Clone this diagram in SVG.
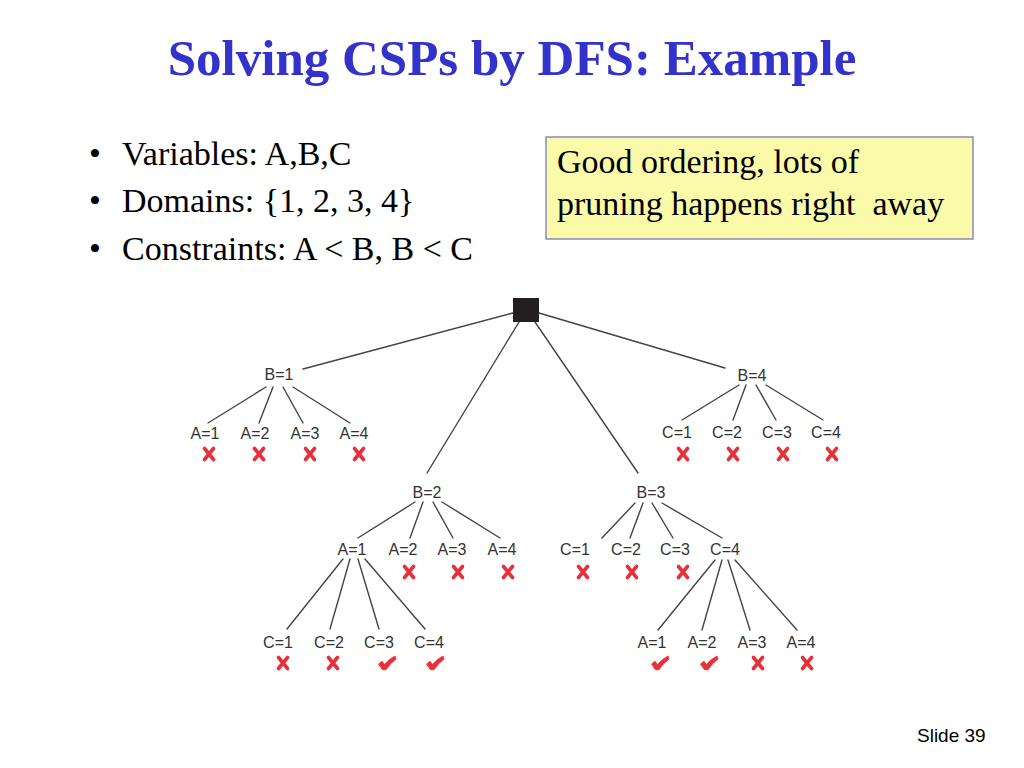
<svg xmlns="http://www.w3.org/2000/svg" xmlns:xlink="http://www.w3.org/1999/xlink" width="1024" height="768" viewBox="0 0 1024 768">
<style>
.title{font-family:"Liberation Serif","Times New Roman",serif;font-weight:bold;font-size:51px;fill:#3333CC;text-anchor:middle}
.body{font-family:"Liberation Serif","Times New Roman",serif;font-size:34px;fill:#000}
.lbl{font-family:"Liberation Sans",Arial,sans-serif;font-size:16px;fill:#333;text-anchor:middle}
.foot{font-family:"Liberation Sans",Arial,sans-serif;font-size:19px;fill:#000}
.edge{stroke:#444;stroke-width:1.4;fill:none;stroke-linecap:round}
</style>
<defs>
<g id="cross"><path d="M-4.5,-5.5 Q0,0 4.5,5.5 M4.5,-5.5 Q0,0 -4.5,5.5" stroke="#E8303A" stroke-width="3.6" stroke-linecap="round" fill="none"/></g>
<g id="check"><path d="M-8.5,1 L-5,-1.8 L-2.5,1.5 Q2,-4 8,-7 L9,-4 Q3,0.5 -1,6.8 L-4.5,6.8 Z" fill="#E8303A" stroke="#E8303A" stroke-width="0.8" stroke-linejoin="round"/></g>
</defs>
<rect width="1024" height="768" fill="#fff"/>
<text class="title" x="512" y="75">Solving CSPs by DFS: Example</text>
<g id="bullets">
<text class="body" x="89" y="165">•</text><text class="body" x="122" y="165">Variables: A,B,C</text>
<text class="body" x="89" y="212">•</text><text class="body" x="122" y="212">Domains: {1, 2, 3, 4}</text>
<text class="body" x="89" y="260">•</text><text class="body" x="122" y="260">Constraints: A &lt; B, B &lt; C</text>
</g>
<g id="note">
<rect x="546" y="137" width="427" height="102" fill="#FAFAA8" stroke="#6B6BC8" stroke-width="1.2"/>
<text class="body" x="557" y="173">Good ordering, lots of</text>
<text class="body" x="557" y="215" xml:space="preserve">pruning happens right  away</text>
</g>
<g id="connectors">
<line class="edge" x1="513" y1="313" x2="303" y2="369"/>
<line class="edge" x1="519" y1="322" x2="427" y2="473"/>
<line class="edge" x1="535" y1="322" x2="638" y2="473"/>
<line class="edge" x1="539" y1="313" x2="725" y2="368"/>
<line class="edge" x1="266" y1="387" x2="208" y2="423"/>
<line class="edge" x1="273" y1="387" x2="259" y2="423"/>
<line class="edge" x1="283" y1="387" x2="303" y2="423"/>
<line class="edge" x1="293" y1="387" x2="350" y2="423"/>
<line class="edge" x1="739" y1="385" x2="682" y2="420"/>
<line class="edge" x1="746" y1="385" x2="733" y2="420"/>
<line class="edge" x1="756" y1="385" x2="776" y2="420"/>
<line class="edge" x1="766" y1="385" x2="823" y2="420"/>
<line class="edge" x1="415" y1="502" x2="358" y2="538"/>
<line class="edge" x1="423" y1="502" x2="410" y2="538"/>
<line class="edge" x1="433" y1="502" x2="453" y2="538"/>
<line class="edge" x1="442" y1="502" x2="500" y2="538"/>
<line class="edge" x1="343" y1="559" x2="287" y2="629"/>
<line class="edge" x1="350" y1="559" x2="330" y2="629"/>
<line class="edge" x1="358" y1="559" x2="379" y2="629"/>
<line class="edge" x1="365" y1="559" x2="425" y2="629"/>
<line class="edge" x1="635" y1="503" x2="602" y2="538"/>
<line class="edge" x1="643" y1="503" x2="630" y2="538"/>
<line class="edge" x1="652" y1="503" x2="673" y2="538"/>
<line class="edge" x1="662" y1="503" x2="722" y2="538"/>
<line class="edge" x1="715" y1="560" x2="658" y2="630"/>
<line class="edge" x1="722" y1="560" x2="702" y2="630"/>
<line class="edge" x1="728" y1="560" x2="750" y2="630"/>
<line class="edge" x1="735" y1="560" x2="797" y2="630"/>
</g>
<g id="root"><rect x="513" y="298" width="26" height="24" fill="#231F20"/></g>
<g id="n-b1"><text class="lbl" x="279" y="380">B=1</text></g>
<g id="n-b1-a1"><text class="lbl" x="205" y="439">A=1</text><use xlink:href="#cross" x="209" y="454"/></g>
<g id="n-b1-a2"><text class="lbl" x="255" y="439">A=2</text><use xlink:href="#cross" x="259" y="454"/></g>
<g id="n-b1-a3"><text class="lbl" x="305" y="439">A=3</text><use xlink:href="#cross" x="310" y="454"/></g>
<g id="n-b1-a4"><text class="lbl" x="354" y="439">A=4</text><use xlink:href="#cross" x="359" y="454"/></g>
<g id="n-b4"><text class="lbl" x="752" y="381">B=4</text></g>
<g id="n-b4-c1"><text class="lbl" x="677" y="438">C=1</text><use xlink:href="#cross" x="683" y="454"/></g>
<g id="n-b4-c2"><text class="lbl" x="727" y="438">C=2</text><use xlink:href="#cross" x="733" y="454"/></g>
<g id="n-b4-c3"><text class="lbl" x="777" y="438">C=3</text><use xlink:href="#cross" x="783" y="454"/></g>
<g id="n-b4-c4"><text class="lbl" x="826" y="438">C=4</text><use xlink:href="#cross" x="832" y="454"/></g>
<g id="n-b2"><text class="lbl" x="427" y="498">B=2</text></g>
<g id="n-b2-a1"><text class="lbl" x="352" y="555">A=1</text></g>
<g id="n-b2-a2"><text class="lbl" x="403" y="555">A=2</text><use xlink:href="#cross" x="409" y="572"/></g>
<g id="n-b2-a3"><text class="lbl" x="452" y="555">A=3</text><use xlink:href="#cross" x="458" y="572"/></g>
<g id="n-b2-a4"><text class="lbl" x="502" y="555">A=4</text><use xlink:href="#cross" x="508" y="572"/></g>
<g id="n-b2-a1-c1"><text class="lbl" x="278" y="648">C=1</text><use xlink:href="#cross" x="283" y="663"/></g>
<g id="n-b2-a1-c2"><text class="lbl" x="329" y="648">C=2</text><use xlink:href="#cross" x="333" y="663"/></g>
<g id="n-b2-a1-c3"><text class="lbl" x="379" y="648">C=3</text><use xlink:href="#check" x="387" y="663"/></g>
<g id="n-b2-a1-c4"><text class="lbl" x="429" y="648">C=4</text><use xlink:href="#check" x="435" y="663"/></g>
<g id="n-b3"><text class="lbl" x="651" y="498">B=3</text></g>
<g id="n-b3-c1"><text class="lbl" x="575" y="555">C=1</text><use xlink:href="#cross" x="583" y="572"/></g>
<g id="n-b3-c2"><text class="lbl" x="626" y="555">C=2</text><use xlink:href="#cross" x="632" y="572"/></g>
<g id="n-b3-c3"><text class="lbl" x="675" y="555">C=3</text><use xlink:href="#cross" x="683" y="572"/></g>
<g id="n-b3-c4"><text class="lbl" x="725" y="555">C=4</text></g>
<g id="n-b3-c4-a1"><text class="lbl" x="652" y="648">A=1</text><use xlink:href="#check" x="660" y="663"/></g>
<g id="n-b3-c4-a2"><text class="lbl" x="702" y="648">A=2</text><use xlink:href="#check" x="709" y="663"/></g>
<g id="n-b3-c4-a3"><text class="lbl" x="752" y="648">A=3</text><use xlink:href="#cross" x="758" y="663"/></g>
<g id="n-b3-c4-a4"><text class="lbl" x="801" y="648">A=4</text><use xlink:href="#cross" x="807" y="663"/></g>
<text class="foot" x="917" y="742">Slide 39</text>
</svg>
